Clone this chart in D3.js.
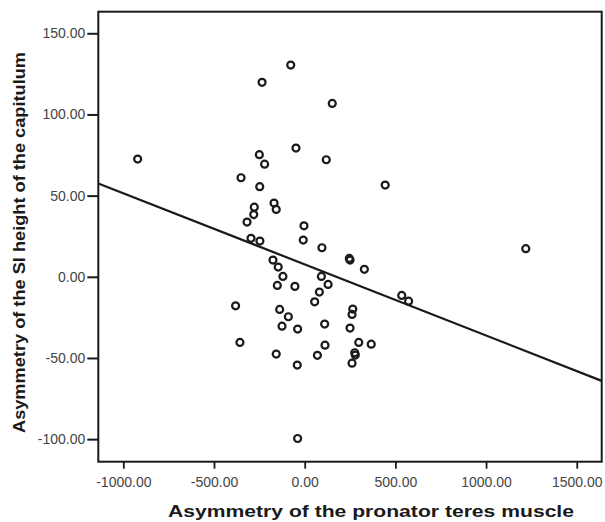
<!DOCTYPE html>
<html><head><meta charset="utf-8">
<script src="https://cdn.jsdelivr.net/npm/d3@7"></script>
<style>
html,body{margin:0;padding:0;background:#fff;}
svg{display:block;}
</style></head>
<body>
<svg id="chart" width="605" height="522"></svg>
<script>
// Data
const xValues = [-921,-77,-235,152,-48,119,-250,-221,-351,-248,444,-169,-157,-278,-281,-318,-4,-8,-296,-247,95,246,250,329,-175,-146,-120,-151,-54,92,129,81,55,-381,-138,-90,-125,-39,110,265,261,250,-357,-157,-41,70,112,298,367,276,279,261,535,573,1219,-39];
const yValues = [72.5,130.4,119.8,106.8,79.3,72.1,75.2,69.4,61.0,55.5,56.5,45.4,41.5,42.9,38.3,33.7,31.4,22.6,23.7,22.0,17.9,11.3,10.3,4.6,10.3,6.0,0.2,-5.3,-5.9,0.2,-4.7,-9.4,-15.4,-17.9,-20.1,-24.6,-30.4,-32.2,-29.1,-19.9,-23.2,-31.6,-40.4,-47.6,-54.4,-48.4,-42.1,-40.4,-41.5,-46.8,-48.2,-53.2,-11.5,-15.0,17.3,-99.6];
const xTicks = [-1000,-500,0,500,1000,1500];
const yTicks = [-100,-50,0,50,100,150];
const fitLine = {intercept: 7.64, slope: -0.04381};
const xTitle = "Asymmetry of the pronator teres muscle";
const yTitle = "Asymmetry of the SI height of the capitulum";

const svg = d3.select("#chart");
const L = 98.3, R = 601.7, T = 11.7, B = 461.7;
const x = d3.scaleLinear().domain([-1138, 1637.6]).range([L, R]);
const y = d3.scaleLinear().domain([-113.9, 163.3]).range([B, T]);

const fmt = d => d.toFixed(2);
const FONT = "Liberation Sans, Arial, Helvetica, sans-serif";

// y axis
const ya = svg.append("g").attr("transform", `translate(${L},0)`)
  .call(d3.axisLeft(y).tickValues(yTicks).tickFormat(fmt).tickSize(11).tickPadding(2));
ya.select(".domain").remove();
ya.selectAll(".tick line").attr("stroke", "#1a1a1a").attr("stroke-width", 2);
ya.selectAll(".tick text").attr("font-family", FONT)
  .attr("font-size", 14).attr("fill", "#444");

// x axis
const xa = svg.append("g").attr("transform", `translate(0,${B})`)
  .call(d3.axisBottom(x).tickValues(xTicks).tickFormat(fmt).tickSize(7).tickPadding(8));
xa.select(".domain").remove();
xa.selectAll(".tick line").attr("stroke", "#1a1a1a").attr("stroke-width", 1.8);
xa.selectAll(".tick text").attr("font-family", FONT)
  .attr("font-size", 14).attr("fill", "#444");

// frame
svg.append("rect").attr("x", L).attr("y", T).attr("width", R - L).attr("height", B - T)
  .attr("fill", "none").attr("stroke", "#1a1a1a").attr("stroke-width", 2);

// regression line
const [dx0, dx1] = x.domain();
svg.append("line")
  .attr("x1", x(dx0)).attr("y1", y(fitLine.intercept + fitLine.slope * dx0))
  .attr("x2", x(dx1)).attr("y2", y(fitLine.intercept + fitLine.slope * dx1))
  .attr("stroke", "#1a1a1a").attr("stroke-width", 2.2);

// points
svg.append("g").selectAll("circle").data(xValues.map((v, i) => [v, yValues[i]]))
  .join("circle")
  .attr("cx", d => x(d[0])).attr("cy", d => y(d[1])).attr("r", 3.5)
  .attr("fill", "none").attr("stroke", "#1a1a1a").attr("stroke-width", 2.2);

// titles
svg.append("text").attr("x", 168).attr("y", 517)
  .attr("textLength", 406).attr("lengthAdjust", "spacingAndGlyphs")
  .attr("font-family", FONT).attr("font-weight", "bold")
  .attr("font-size", 17).attr("fill", "#1a1a1a").text(xTitle);
svg.append("text").attr("transform", "translate(25,433) rotate(-90)")
  .attr("textLength", 381).attr("lengthAdjust", "spacingAndGlyphs")
  .attr("font-family", FONT).attr("font-weight", "bold")
  .attr("font-size", 17).attr("fill", "#1a1a1a").text(yTitle);
</script>
</body></html>
